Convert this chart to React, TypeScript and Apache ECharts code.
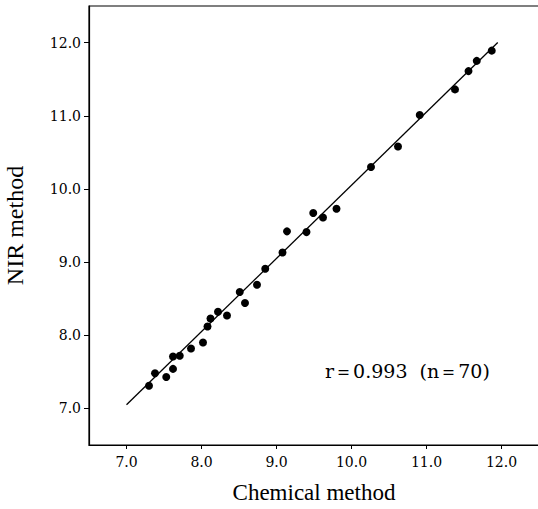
import React, { useEffect, useRef } from "react";
import * as echarts from "echarts";

const chemical = [7.30, 7.38, 7.53, 7.62, 7.62, 7.71, 7.86, 8.02, 8.08, 8.12, 8.22, 8.34, 8.51, 8.58, 8.74, 8.85, 9.08, 9.14, 9.40, 9.49, 9.62, 9.80, 10.26, 10.62, 10.91, 11.38, 11.56, 11.67, 11.87];
const nir = [7.31, 7.48, 7.43, 7.54, 7.71, 7.72, 7.82, 7.90, 8.12, 8.23, 8.32, 8.27, 8.59, 8.44, 8.69, 8.91, 9.13, 9.42, 9.41, 9.67, 9.61, 9.73, 10.30, 10.58, 11.01, 11.36, 11.61, 11.75, 11.89];
const fitX = [7.0, 11.95];
const fitY = [7.05, 12.0];
const tickValues = [7, 8, 9, 10, 11, 12];
const annotation = "r\uFF1D0.993  (n\uFF1D70)";
const xName = "Chemical method";
const yName = "NIR method";

const serif = "'Liberation Serif', 'DejaVu Serif', serif";
const wideSerif = "'DejaVu Serif', 'Liberation Serif', serif";

export default function App() {
  const ref = useRef<HTMLDivElement>(null);
  useEffect(() => {
    document.body.style.margin = "0";
    if (!ref.current) return;
    const chart = echarts.init(ref.current, null, { renderer: "svg" });
    const axisCommon = {
      type: "value",
      min: 6.5,
      max: 12.5,
      interval: 0.5,
      nameLocation: "middle",
      nameTextStyle: { fontFamily: serif, fontSize: 23, color: "#000" },
      axisLine: { show: true, onZero: false, lineStyle: { color: "#000", width: 1.2 } },
      splitLine: { show: false },
    };
    const labelStyle = {
      fontFamily: wideSerif,
      fontSize: 14,
      color: "#000",
      customValues: tickValues,
      formatter: (v: number) => v.toFixed(1),
    };
    chart.setOption({
      animation: false,
      backgroundColor: "#ffffff",
      grid: {
        left: 89,
        top: 6,
        width: 450,
        height: 439,
        containLabel: false,
        outerBoundsMode: "none",
        show: true,
        borderColor: "#000",
        borderWidth: 1.2,
      },
      xAxis: {
        ...axisCommon,
        name: xName,
        nameGap: 36,
        axisTick: {
          show: true,
          length: 4,
          customValues: tickValues,
          lineStyle: { color: "#000" },
        },
        axisLabel: { ...labelStyle, margin: 10 },
      },
      yAxis: {
        ...axisCommon,
        name: yName,
        nameGap: 62,
        nameTextStyle: { fontFamily: serif, fontSize: 24, color: "#000" },
        axisTick: {
          show: true,
          length: 5,
          customValues: tickValues,
          lineStyle: { color: "#000" },
        },
        axisLabel: { ...labelStyle, margin: 8 },
      },
      series: [
        {
          type: "line",
          data: fitX.map((x, i) => [x, fitY[i]]),
          symbol: "none",
          lineStyle: { color: "#000", width: 1.3 },
          z: 2,
        },
        {
          type: "scatter",
          data: chemical.map((x, i) => [x, nir[i]]),
          symbol: "circle",
          symbolSize: 8,
          itemStyle: { color: "#000", opacity: 1 },
          z: 3,
        },
      ],
      graphic: [
        {
          type: "text",
          left: 325,
          top: 361,
          style: {
            text: annotation,
            fontFamily: wideSerif,
            fontSize: 19,
            fill: "#000",
          },
        },
      ],
    });
    return () => chart.dispose();
  }, []);
  return <div ref={ref} style={{ width: 538, height: 509 }} />;
}
